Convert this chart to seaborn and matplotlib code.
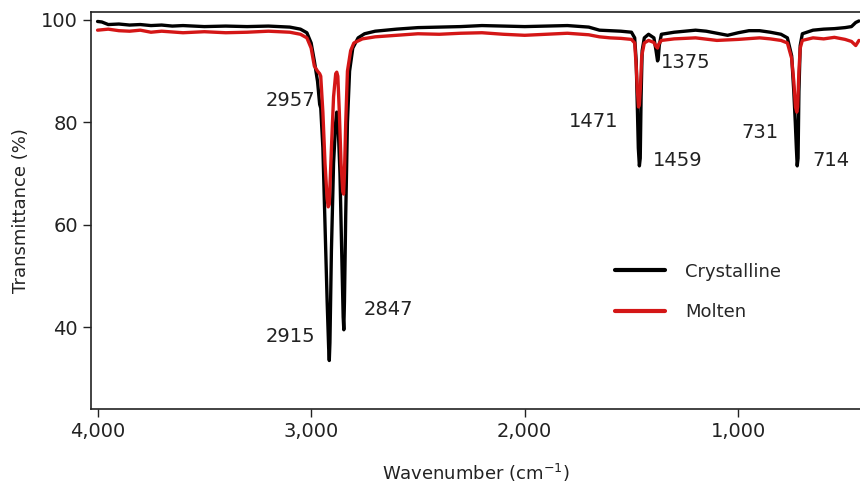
import pandas as pd
import seaborn as sns
import matplotlib.pyplot as plt

# Crystalline spectrum (wavenumber, transmittance)
cryst_wn = [4000, 3980, 3950, 3900, 3850, 3800, 3750, 3700, 3650, 3600, 3500, 3400, 3300, 3200,
            3100, 3050, 3020, 3000, 2985, 2970, 2960, 2955, 2945, 2935, 2925, 2918, 2915, 2912,
            2905, 2895, 2885, 2880, 2875, 2865, 2857, 2850, 2847, 2844, 2838, 2830, 2820, 2805,
            2780, 2750, 2700, 2600, 2500, 2400, 2300, 2200, 2100, 2000, 1900, 1800, 1700, 1650,
            1600, 1550, 1500, 1485, 1478, 1472, 1468, 1463, 1459, 1455, 1450, 1440, 1420, 1395,
            1385, 1378, 1375, 1370, 1360, 1300, 1250, 1200, 1150, 1100, 1050, 1000, 950, 900,
            850, 800, 770, 750, 740, 733, 728, 724, 720, 716, 710, 700, 650, 600, 550, 500, 470,
            450, 435]
cryst_t = [99.7, 99.6, 99.1, 99.2, 99.0, 99.1, 98.9, 99.0, 98.8, 98.9, 98.7, 98.8, 98.7, 98.8,
           98.6, 98.2, 97.5, 95.5, 92.0, 88.0, 83.5, 82.8, 75.0, 60.0, 45.0, 36.0, 33.5, 37.0,
           55.0, 72.0, 80.0, 82.0, 81.0, 70.0, 55.0, 42.0, 39.5, 45.0, 62.0, 80.0, 90.0, 94.5,
           96.5, 97.3, 97.8, 98.2, 98.5, 98.6, 98.7, 98.9, 98.8, 98.7, 98.8, 98.9, 98.6, 98.0,
           97.9, 97.8, 97.6, 96.5, 92.0, 82.0, 75.0, 71.5, 73.0, 85.0, 94.0, 96.5, 97.2, 96.5,
           94.0, 92.0, 92.3, 95.0, 97.2, 97.6, 97.8, 98.0, 97.8, 97.4, 97.0, 97.5, 97.9, 97.9,
           97.6, 97.2, 96.5, 93.0, 86.0, 80.0, 75.0, 71.5, 73.0, 86.0, 95.0, 97.3, 98.0, 98.2,
           98.3, 98.5, 98.7, 99.5, 99.8]

# Molten spectrum
molten_wn = [4000, 3950, 3900, 3850, 3800, 3750, 3700, 3600, 3500, 3400, 3300, 3200, 3100, 3050,
             3020, 3000, 2985, 2970, 2960, 2955, 2945, 2935, 2925, 2920, 2915, 2905, 2895, 2885,
             2880, 2875, 2868, 2860, 2852, 2848, 2844, 2838, 2830, 2815, 2800, 2760, 2700, 2600,
             2500, 2400, 2300, 2200, 2100, 2000, 1900, 1800, 1700, 1650, 1600, 1550, 1500, 1485,
             1478, 1472, 1467, 1463, 1458, 1452, 1440, 1420, 1395, 1385, 1378, 1372, 1360, 1300,
             1200, 1100, 1000, 900, 850, 800, 770, 750, 740, 732, 726, 722, 716, 710, 700, 650,
             600, 550, 500, 470, 450, 435]
molten_t = [98.0, 98.2, 97.9, 97.8, 98.0, 97.6, 97.8, 97.5, 97.7, 97.5, 97.6, 97.8, 97.6, 97.2,
            96.5, 94.5, 91.0, 90.0, 89.5, 89.0, 82.0, 72.0, 65.0, 63.5, 64.0, 75.0, 85.0, 89.5,
            89.8, 89.0, 82.0, 72.0, 66.5, 66.0, 70.0, 80.0, 90.0, 94.0, 95.5, 96.3, 96.7, 97.0,
            97.3, 97.2, 97.4, 97.5, 97.2, 97.0, 97.2, 97.4, 97.1, 96.7, 96.5, 96.4, 96.2, 95.5,
            91.0, 86.0, 83.0, 83.5, 87.0, 93.0, 95.5, 96.0, 95.6, 94.8, 94.5, 95.3, 96.0, 96.3,
            96.5, 96.0, 96.2, 96.5, 96.3, 96.0, 95.5, 92.5, 88.0, 83.0, 82.0, 83.0, 90.0, 94.5,
            96.0, 96.5, 96.3, 96.6, 96.2, 95.8, 95.0, 96.0]

# Peak labels
peak_labels = ['2957', '2915', '2847', '1471', '1459', '1375', '731', '714']
label_x = [2980, 2980, 2755, 1562, 1398, 1361, 813, 654]
label_y = [84.2, 38.2, 43.5, 80.1, 72.5, 91.6, 78.0, 72.5]
label_ha = ['right', 'right', 'left', 'right', 'left', 'left', 'right', 'left']

x_ticks = [4000, 3000, 2000, 1000]
x_tick_labels = ['4,000', '3,000', '2,000', '1,000']
y_ticks = [40, 60, 80, 100]

df = pd.concat([
    pd.DataFrame({'wn': cryst_wn, 'T': cryst_t, 'Sample': 'Crystalline'}),
    pd.DataFrame({'wn': molten_wn, 'T': molten_t, 'Sample': 'Molten'}),
])

sns.set_style('ticks')
plt.rcParams['font.family'] = ['DejaVu Sans']

fig = plt.figure(figsize=(8.6, 4.9), dpi=100)
ax = fig.add_axes([0.106, 0.165, 0.894, 0.81])

sns.lineplot(data=df, x='wn', y='T', hue='Sample', estimator=None, sort=True,
             palette={'Crystalline': '#000000', 'Molten': '#d41616'},
             linewidth=2.4, ax=ax)

ax.set_xlim(4030, 430)
ax.set_ylim(24, 101.5)
ax.set_xticks(x_ticks)
ax.set_xticklabels(x_tick_labels)
ax.set_yticks(y_ticks)
ax.tick_params(axis='both', labelsize=14, length=6, width=1, color='#222222', labelcolor='#222222')
ax.set_xlabel('Wavenumber (cm$^{-1}$)', fontsize=13, labelpad=15, color='#222222')
ax.set_ylabel('Transmittance (%)', fontsize=13, labelpad=8, color='#222222')

for s in ['left', 'bottom', 'top']:
    ax.spines[s].set_linewidth(1.2)
    ax.spines[s].set_color('#222222')
ax.spines['right'].set_visible(False)

for txt, x, y, ha in zip(peak_labels, label_x, label_y, label_ha):
    ax.text(x, y, txt, ha=ha, va='center', fontsize=14, color='#222222')

leg = ax.legend(title=None, frameon=False, loc='upper left', bbox_to_anchor=(0.66, 0.41),
                fontsize=13, handlelength=2.8, handletextpad=1.1, labelspacing=1.25)
for line in leg.get_lines():
    line.set_linewidth(3)

plt.savefig('out.png', dpi=100)
